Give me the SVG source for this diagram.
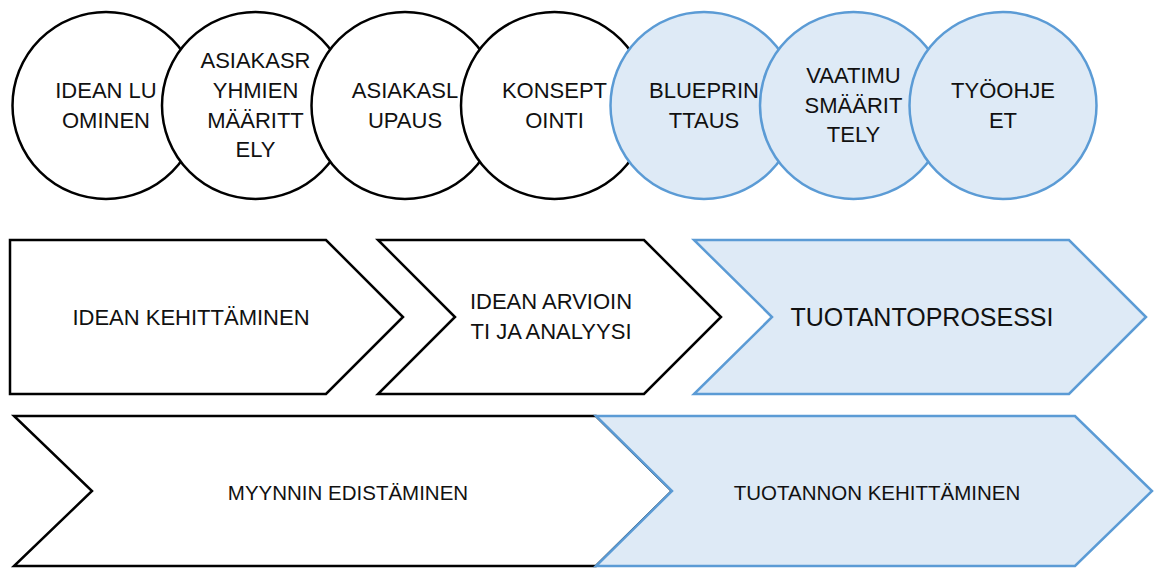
<svg xmlns="http://www.w3.org/2000/svg" width="1155" height="570" viewBox="0 0 1155 570">
<style>
.w{fill:#ffffff;stroke:#000000;stroke-width:2.5;stroke-linejoin:miter}
.b{fill:#DEEAF6;stroke:#5B9BD5;stroke-width:2.5;stroke-linejoin:miter}
text{font-family:"Liberation Sans",Arial,sans-serif;fill:#111111;text-anchor:middle}
.c{font-size:22px}
.r2{font-size:22px}
.big{font-size:25px}
.r3{font-size:20.5px}
</style>
<rect width="1155" height="570" fill="#ffffff"/>
<g id="circle1"><circle class="w" cx="106" cy="105.5" r="93.5"/><text class="c" x="106" y="98">IDEAN LU</text><text class="c" x="106" y="128">OMINEN</text></g>
<g id="circle2"><circle class="w" cx="255.5" cy="105.5" r="93.5"/><text class="c" x="255.5" y="68">ASIAKASR</text><text class="c" x="255.5" y="98">YHMIEN</text><text class="c" x="255.5" y="128">MÄÄRITT</text><text class="c" x="255.5" y="157">ELY</text></g>
<g id="circle3"><circle class="w" cx="405" cy="105.5" r="93.5"/><text class="c" x="405" y="98">ASIAKASL</text><text class="c" x="405" y="128">UPAUS</text></g>
<g id="circle4"><circle class="w" cx="554.5" cy="105.5" r="93.5"/><text class="c" x="554.5" y="98">KONSEPT</text><text class="c" x="554.5" y="128">OINTI</text></g>
<g id="circle5"><circle class="b" cx="704" cy="105.5" r="93.5"/><text class="c" x="704" y="98">BLUEPRIN</text><text class="c" x="704" y="128">TTAUS</text></g>
<g id="circle6"><circle class="b" cx="853.5" cy="105.5" r="93.5"/><text class="c" x="853.5" y="83">VAATIMU</text><text class="c" x="853.5" y="113">SMÄÄRIT</text><text class="c" x="853.5" y="142">TELY</text></g>
<g id="circle7"><circle class="b" cx="1003" cy="105.5" r="93.5"/><text class="c" x="1003" y="98">TYÖOHJE</text><text class="c" x="1003" y="128">ET</text></g>
<g id="idean-kehittaminen"><polygon class="w" points="10,240 326,240 403,317 326,394 10,394"/><text class="r2" x="191" y="325">IDEAN KEHITTÄMINEN</text></g>
<g id="idean-arviointi"><polygon class="w" points="378,240 644,240 721,317 644,394 378,394 455,317"/><text class="r2" x="551" y="309">IDEAN ARVIOIN</text><text class="r2" x="551" y="339">TI JA ANALYYSI</text></g>
<g id="tuotantoprosessi"><polygon class="b" points="694,240 1069,240 1146,317 1069,394 694,394 772,317"/><text class="big" x="922" y="326">TUOTANTOPROSESSI</text></g>
<g id="myynnin-edistaminen"><polygon class="w" points="14,416 596,416 672,491 596,566 14,566 92,491"/><text class="r3" x="348" y="500">MYYNNIN EDISTÄMINEN</text></g>
<g id="tuotannon-kehittaminen"><polygon class="b" points="596,416 1075,416 1152,491 1075,566 596,566 672,491"/><text class="r3" x="877" y="500">TUOTANNON KEHITTÄMINEN</text></g>
<g id="connectors"/>
</svg>
